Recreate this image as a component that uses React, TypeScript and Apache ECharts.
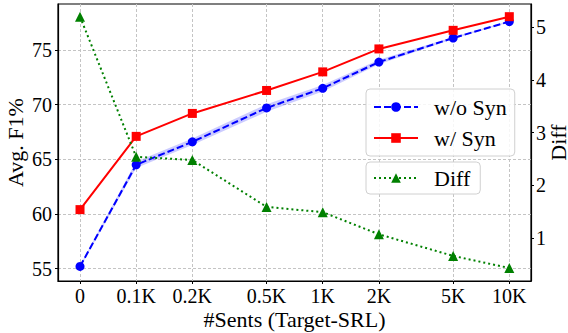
import React, { useEffect, useRef } from "react";
import * as echarts from "echarts";

const sentCounts = [0, 100, 200, 500, 1000, 2000, 5000, 10000];
const xLabels = ["0", "0.1K", "0.2K", "0.5K", "1K", "2K", "5K", "10K"];
const woSyn = [55.2, 64.5, 66.6, 69.7, 71.5, 73.9, 76.1, 77.6];
const woSynStd = [0.1, 0.3, 0.3, 0.35, 0.3, 0.2, 0.1, 0.05];
const wSyn = [60.4, 67.1, 69.2, 71.3, 73.0, 75.1, 76.8, 78.05];
const diff = [5.2, 2.54, 2.48, 1.59, 1.49, 1.07, 0.66, 0.43];
const leftTicks = [55, 60, 65, 70, 75];
const rightTicks = [1, 2, 3, 4, 5];

// x position: log2 scale of sentences (0 sits one step left of 0.1K)
const xPos = sentCounts.map((n) => (n === 0 ? 0 : 1 + Math.log2(n / 100)));

const FONT = "Liberation Serif";

export default function App() {
  const ref = useRef<HTMLDivElement>(null);
  useEffect(() => {
    if (!ref.current) return;
    const chart = echarts.init(ref.current, null, { renderer: "svg" });
    const gridColor = "#c4c4c4";
    const bandData = xPos.map((x, i) => [x, woSyn[i] - woSynStd[i], woSyn[i] + woSynStd[i]]);
    const option: any = {
      animation: false,
      backgroundColor: "#ffffff",
      textStyle: { fontFamily: FONT, color: "#000" },
      grid: {
        left: 58,
        right: 37,
        top: 4,
        bottom: 52,
        outerBoundsMode: "none",
        containLabel: false,
        show: true,
        borderColor: "#000",
        borderWidth: 1.2,
        backgroundColor: "transparent",
      },
      legend: [
        {
          data: ["w/o Syn", "w/ Syn"],
          orient: "vertical",
          left: 366,
          top: 89,
          itemWidth: 44,
          itemHeight: 12,
          itemGap: 9,
          padding: [7, 8, 7, 7],
          backgroundColor: "rgba(255,255,255,0.85)",
          borderColor: "#d0d0d0",
          borderWidth: 1,
          borderRadius: 4,
          textStyle: { fontFamily: FONT, fontSize: 22, color: "#000", padding: [0, 0, 0, 11] },
        },
        {
          data: ["Diff"],
          orient: "vertical",
          left: 366,
          top: 162,
          itemWidth: 44,
          itemHeight: 12,
          padding: [5, 10, 5, 7],
          backgroundColor: "rgba(255,255,255,0.85)",
          borderColor: "#d0d0d0",
          borderWidth: 1,
          borderRadius: 4,
          textStyle: { fontFamily: FONT, fontSize: 22, color: "#000", padding: [0, 0, 0, 11] },
        },
      ],
      xAxis: {
        type: "value",
        min: -0.392,
        max: 8.03,
        name: "#Sents (Target-SRL)",
        nameLocation: "middle",
        nameGap: 28,
        nameMoveOverlap: false,
        nameTextStyle: { fontFamily: FONT, fontSize: 22, lineHeight: 20, color: "#000" },
        axisLine: { show: true, onZero: false, lineStyle: { color: "#000", width: 1.2 } },
        axisTick: { show: true, length: 3, customValues: xPos, lineStyle: { color: "#000" } },
        axisLabel: {
          customValues: xPos,
          margin: 6,
          fontFamily: FONT,
          fontSize: 20,
          lineHeight: 18,
          color: "#000",
          formatter: (v: number) => {
            const i = xPos.findIndex((p) => Math.abs(p - v) < 1e-6);
            return i >= 0 ? xLabels[i] : "";
          },
        },
        splitLine: { show: true, lineStyle: { color: gridColor, type: [3, 2], width: 1 } },
      },
      yAxis: [
        {
          type: "value",
          position: "left",
          min: 53.87,
          max: 79.21,
          name: "Avg. F1%",
          nameLocation: "middle",
          nameGap: 32,
          nameMoveOverlap: false,
          nameTextStyle: { fontFamily: FONT, fontSize: 22, lineHeight: 22, color: "#000" },
          axisLine: { show: true, onZero: false, lineStyle: { color: "#000", width: 1.2 } },
          axisTick: { show: true, length: 3, customValues: leftTicks, lineStyle: { color: "#000" } },
          axisLabel: { customValues: leftTicks, margin: 6, fontFamily: FONT, fontSize: 20, color: "#000" },
          splitLine: { show: true, lineStyle: { color: gridColor, type: [3, 2], width: 1 } },
        },
        {
          type: "value",
          position: "right",
          min: 0.184,
          max: 5.44,
          name: "Diff",
          nameLocation: "middle",
          nameGap: 19,
          nameMoveOverlap: false,
          nameRotate: 90,
          nameTextStyle: { fontFamily: FONT, fontSize: 22, lineHeight: 16, color: "#000" },
          axisLine: { show: true, onZero: false, lineStyle: { color: "#000", width: 1.2 } },
          axisTick: { show: true, length: 3, customValues: rightTicks, lineStyle: { color: "#000" } },
          axisLabel: { customValues: rightTicks, margin: 5, fontFamily: FONT, fontSize: 20, color: "#000" },
          splitLine: { show: false },
        },
      ],
      series: [
        {
          type: "custom",
          name: "band",
          silent: true,
          z: 1,
          yAxisIndex: 0,
          data: bandData,
          encode: { x: 0, y: [1, 2] },
          renderItem: (params: any, api: any) => {
            if (params.dataIndex !== 0) return null;
            const upper = bandData.map((d) => api.coord([d[0], d[2]]));
            const lower = bandData.map((d) => api.coord([d[0], d[1]])).reverse();
            return {
              type: "polygon",
              shape: { points: upper.concat(lower) },
              style: { fill: "rgba(0,0,255,0.2)", stroke: "none" },
            };
          },
        },
        {
          type: "line",
          name: "w/o Syn",
          yAxisIndex: 0,
          z: 3,
          data: xPos.map((x, i) => [x, woSyn[i]]),
          color: "#0000ff",
          symbol: "circle",
          symbolSize: 9,
          lineStyle: { color: "#0000ff", width: 2, type: [7, 3] },
          itemStyle: { color: "#0000ff" },
        },
        {
          type: "line",
          name: "w/ Syn",
          yAxisIndex: 0,
          z: 3,
          data: xPos.map((x, i) => [x, wSyn[i]]),
          color: "#ff0000",
          symbol: "rect",
          symbolSize: 9,
          lineStyle: { color: "#ff0000", width: 2 },
          itemStyle: { color: "#ff0000" },
        },
        {
          type: "line",
          name: "Diff",
          yAxisIndex: 1,
          z: 4,
          data: xPos.map((x, i) => [x, diff[i]]),
          color: "#008000",
          symbol: "triangle",
          symbolSize: 10,
          lineStyle: { color: "#008000", width: 2, type: [2, 3] },
          itemStyle: { color: "#008000" },
        },
      ],
    };
    chart.setOption(option);
    return () => chart.dispose();
  }, []);
  return (
    <div
      ref={ref}
      style={{ position: "absolute", left: 0, top: 0, width: 568, height: 333 }}
    />
  );
}
